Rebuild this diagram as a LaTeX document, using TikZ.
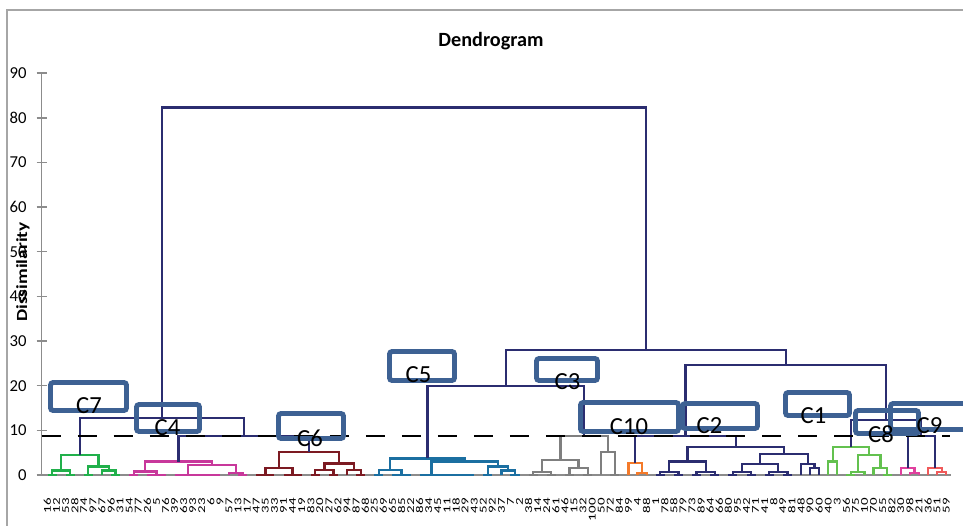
\documentclass[tikz,border=0pt]{standalone}
\usepackage{fontspec}
\setmainfont{Carlito}

\definecolor{dnavy}{RGB}{43,45,112}
\definecolor{cgreen}{RGB}{33,176,75}
\definecolor{cmagenta}{RGB}{200,56,155}
\definecolor{cdarkred}{RGB}{124,26,34}
\definecolor{cblue}{RGB}{27,111,161}
\definecolor{cgray}{RGB}{127,127,127}
\definecolor{corange}{RGB}{244,122,42}
\definecolor{clgreen}{RGB}{99,193,79}
\definecolor{cpink}{RGB}{224,64,158}
\definecolor{cred}{RGB}{240,90,90}
\definecolor{boxblue}{RGB}{61,97,147}
\definecolor{axisgray}{RGB}{140,140,140}
\definecolor{framegray}{RGB}{166,166,166}

\begin{document}
\begin{tikzpicture}[x=0.02cm, y=-0.02cm,
    link/.style={line width=1.3pt},
    cbox/.style={draw=boxblue, line width=2.8pt, rounded corners=1.5pt},
    clab/.style={inner sep=0pt, font=\fontsize{14}{14}\selectfont},
    leaf/.style={rotate=90, yscale=0.7, anchor=east, inner sep=0pt, font=\fontsize{8.5}{8.5}\selectfont},
    tick/.style={anchor=east, inner sep=0pt, font=\fontsize{9.5}{9.5}\selectfont}]
    \useasboundingbox (0,0) rectangle (963,525);
    \clip (0,0) rectangle (963,525);

    \draw[framegray, line width=0.8pt] (7,10) rectangle (1000,600);

    \node[font=\bfseries\fontsize{11.5}{12}\selectfont] (title) at (491,41) {Dendrogram};

    \begin{scope}[shift={(47.5,475)}, x=0.1816cm, y=0.08934cm]
    \draw[axisgray, line width=0.9pt] (-0.64,90) -- (-0.64,0) -- (99.5,0);
    \foreach \v in {0,10,...,90} {
        \draw[axisgray, line width=0.9pt] (-1.19,\v) -- (-0.09,\v);
        \node[tick] (t\v) at (-2.26,\v) {\v};
    }

    \foreach \lab [count=\i from 0] in {16,12,53,28,74,97,67,96,31,54,77,26,5,
        76,39,63,93,23,6,9,57,13,17,47,35,33,91,44,19,83,20,27,62,94,87,68,25,
        69,65,85,22,86,34,45,11,18,29,43,52,92,37,7,2,38,14,24,61,46,15,32,100,
        50,72,84,99,4,88,1,78,58,79,73,89,64,66,80,95,42,71,41,8,49,81,48,90,60,
        40,3,56,75,10,70,55,82,30,98,21,36,51,59}
        \node[leaf] (l\i) at (\i,-5.15) {\lab};

    % C7
    \draw[link, cgreen] (0,0) -- (1,0);
    \draw[link, cgreen] (2,0) -- (3,0);
    \draw[link, cgreen] (0.5,0) |- (2.5,1.0) -- (2.5,0);
    \draw[link, cgreen] (4,0) -- (5,0);
    \draw[link, cgreen] (7,0) -- (8,0);
    \draw[link, cgreen] (6,0) |- (7.5,1.0) -- (7.5,0);
    \draw[link, cgreen] (4.5,0) |- (6.75,1.9) -- (6.75,1.0);
    \draw[link, cgreen] (1.5,1.0) |- (5.625,4.5) -- (5.625,1.9);

    % C4
    \draw[link, cmagenta] (9,0) -- (10,0);
    \draw[link, cmagenta] (11,0) -- (13,0);
    \draw[link, cmagenta] (9.5,0) |- (12,0.8) -- (12,0);
    \draw[link, cmagenta] (14,0) -- (19,0);
    \draw[link, cmagenta] (21,0) -- (22,0);
    \draw[link, cmagenta] (20,0) |- (21.5,0.5) -- (21.5,0);
    \draw[link, cmagenta] (15.5,0) |- (20.75,2.2) -- (20.75,0.5);
    \draw[link, cmagenta] (10.75,0.8) |- (18.125,3.0) -- (18.125,2.2);

    % C6
    \draw[link, cdarkred] (23,0) -- (25,0);
    \draw[link, cdarkred] (26,0) -- (28,0);
    \draw[link, cdarkred] (24,0) |- (27,1.5) -- (27,0);
    \draw[link, cdarkred] (29,0) -- (30,0);
    \draw[link, cdarkred] (31,0) -- (32,0);
    \draw[link, cdarkred] (29.5,0) |- (31.5,1.1) -- (31.5,0);
    \draw[link, cdarkred] (34,0) -- (35,0);
    \draw[link, cdarkred] (33,0) |- (34.5,1.1) -- (34.5,0);
    \draw[link, cdarkred] (30.5,1.1) |- (33.75,2.6) -- (33.75,1.1);
    \draw[link, cdarkred] (25.5,1.5) |- (32.125,5.2) -- (32.125,2.6);

    % C5
    \draw[link, cblue] (36,0) -- (37,0);
    \draw[link, cblue] (38,0) -- (40,0);
    \draw[link, cblue] (36.5,0) |- (39,1.2) -- (39,0);
    \draw[link, cblue] (41,0) -- (47,0);
    \draw[link, cblue] (48,0) -- (49,0);
    \draw[link, cblue] (51,0) -- (52,0);
    \draw[link, cblue] (50,0) |- (51.5,1.0) -- (51.5,0);
    \draw[link, cblue] (48.5,0) |- (50.75,1.9) -- (50.75,1.0);
    \draw[link, cblue] (42.3,0) |- (49.625,3.0) -- (49.625,1.9);
    \draw[link, cblue] (37.75,1.2) |- (45.96,3.7) -- (45.96,3.0);

    % C10
    \draw[link, cgray] (53,0) -- (54,0);
    \draw[link, cgray] (55,0) -- (56,0);
    \draw[link, cgray] (53.5,0) |- (55.5,0.7) -- (55.5,0);
    \draw[link, cgray] (57,0) -- (58,0);
    \draw[link, cgray] (59,0) -- (60,0);
    \draw[link, cgray] (57.5,0) |- (59.5,1.5) -- (59.5,0);
    \draw[link, cgray] (54.5,0.7) |- (58.5,3.4) -- (58.5,1.5);
    \draw[link, cgray] (62,0) -- (63,0);
    \draw[link, cgray] (61,0) |- (62.5,5.2) -- (62.5,0);
    \draw[link, cgray] (56.5,3.4) |- (61.75,8.7) -- (61.75,5.2);

    % orange
    \draw[link, corange] (65,0) |- (66,0.5) -- (66,0);
    \draw[link, corange] (64,0) |- (65.5,2.75) -- (65.5,0.5);

    % C2
    \draw[link, dnavy] (67,0) -- (68,0);
    \draw[link, dnavy] (69,0) -- (70,0);
    \draw[link, dnavy] (67.5,0) |- (69.5,0.7) -- (69.5,0);
    \draw[link, dnavy] (71,0) -- (72,0);
    \draw[link, dnavy] (73,0) -- (74,0);
    \draw[link, dnavy] (71.5,0) |- (73.5,0.7) -- (73.5,0);
    \draw[link, dnavy] (68.5,0.7) |- (72.5,3.0) -- (72.5,0.7);
    \draw[link, dnavy] (75,0) -- (76,0);
    \draw[link, dnavy] (77,0) -- (78,0);
    \draw[link, dnavy] (75.5,0) |- (77.5,0.7) -- (77.5,0);
    \draw[link, dnavy] (79,0) -- (80,0);
    \draw[link, dnavy] (81,0) -- (82,0);
    \draw[link, dnavy] (79.5,0) |- (81.5,0.7) -- (81.5,0);
    \draw[link, dnavy] (76.5,0.7) |- (80.5,2.5) -- (80.5,0.7);
    \draw[link, dnavy] (84,0) |- (85,1.5) -- (85,0);
    \draw[link, dnavy] (83,0) |- (84.5,2.5) -- (84.5,1.5);
    \draw[link, dnavy] (78.5,2.5) |- (83.75,4.7) -- (83.75,2.5);
    \draw[link, dnavy] (70.5,3.0) |- (81.125,6.3) -- (81.125,4.7);

    % C8
    \draw[link, clgreen] (86,0) |- (87,3.0) -- (87,0);
    \draw[link, clgreen] (88,0) -- (89,0);
    \draw[link, clgreen] (88.5,0) |- (90,0.7) -- (90,0);
    \draw[link, clgreen] (92,0) -- (93,0);
    \draw[link, clgreen] (91,0) |- (92.5,1.5) -- (92.5,0);
    \draw[link, clgreen] (89.25,0.7) |- (91.75,4.5) -- (91.75,1.5);
    \draw[link, clgreen] (86.5,3.0) |- (90.5,6.3) -- (90.5,4.5);

    % C9
    \draw[link, cpink] (95,0) |- (96,0.5) -- (96,0);
    \draw[link, cpink] (94,0) |- (95.5,1.5) -- (95.5,0.5);
    \draw[link, cred] (98,0) |- (99,0.7) -- (99,0);
    \draw[link, cred] (97,0) |- (98.5,1.6) -- (98.5,0.7);

    % upper links
    \draw[link, dnavy] (14.44,3.0) |- (28.81,8.7) -- (28.81,5.2);
    \draw[link, dnavy] (3.56,4.5) |- (21.63,12.8) -- (21.63,8.7);
    \draw[link, dnavy] (64.75,2.75) |- (75.81,8.7) -- (75.81,6.3);
    \draw[link, dnavy] (94.75,1.5) |- (97.75,8.7) -- (97.75,1.6);
    \draw[link, dnavy] (88.5,6.3) |- (96.25,12.3) -- (96.25,8.7);
    \draw[link, dnavy] (70.28,8.7) |- (92.38,24.6) -- (92.38,12.3);
    \draw[link, dnavy] (41.86,3.7) |- (59.13,20.0) -- (59.13,8.7);
    \draw[link, dnavy] (50.49,20.0) |- (81.33,28.0) -- (81.33,24.6);
    \draw[link, dnavy] (12.59,12.8) |- (65.91,82.3) -- (65.91,28.0);

    \draw[black, line width=1.1pt, dash pattern=on 11pt off 9.5pt] (-0.64,8.7) -- (99.4,8.7);
    \end{scope}

    \node[rotate=90, yscale=0.8, font=\bfseries\fontsize{11}{11}\selectfont] (ylab) at (23,272) {Dissimilarity};

    \draw[cbox] (50.5,382.5) rectangle (126.5,410.5);
    \draw[cbox] (136.5,404.5) rectangle (199.5,431.5);
    \draw[cbox] (278.5,413.5) rectangle (343.5,438.5);
    \draw[cbox] (389.5,351.5) rectangle (454.5,380.5);
    \draw[cbox] (536.5,358.5) rectangle (597.5,380.5);
    \draw[cbox] (580.5,402.5) rectangle (678.5,431.5);
    \draw[cbox] (682.5,403.5) rectangle (757.5,428.5);
    \draw[cbox] (785.5,392.5) rectangle (849.5,415.5);
    \draw[cbox] (855.5,410.5) rectangle (918.5,433.5);
    \draw[cbox] (890.5,403.5) rectangle (990,429.5);

    \node[clab] (c7) at (89,406) {C7};
    \node[clab] (c4) at (167.5,427.5) {C4};
    \node[clab] (c6) at (310,438) {C6};
    \node[clab] (c5) at (418.5,375) {C5};
    \node[clab] (c3) at (567.5,381.5) {C3};
    \node[clab] (c10) at (629,427) {C10};
    \node[clab] (c2) at (709.5,426) {C2};
    \node[clab] (c1) at (813.5,416) {C1};
    \node[clab] (c8) at (881,434) {C8};
    \node[clab] (c9) at (929.5,426) {C9};
\end{tikzpicture}
\end{document}
